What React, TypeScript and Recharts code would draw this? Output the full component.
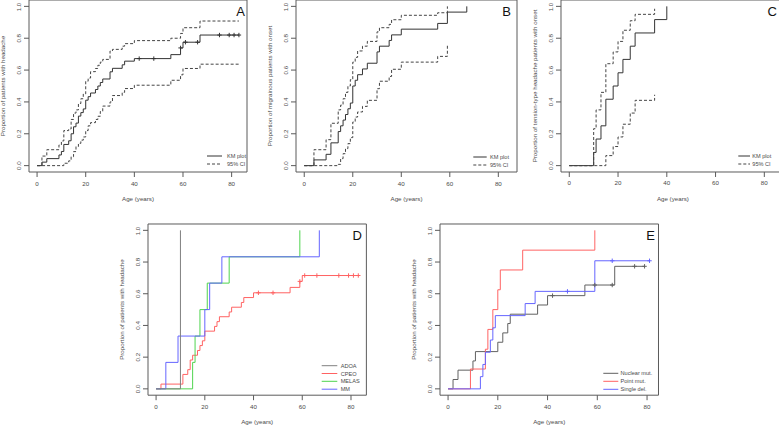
import React from 'react';
import { ComposedChart, Line, Scatter, XAxis, YAxis, ReferenceArea } from 'recharts';

// ---- panel A: all patients, headache ----
const ageA = [0, 2, 4, 9, 10, 11, 13, 14, 15, 16, 17, 18, 19, 20, 21, 22, 24, 25, 26, 27, 30, 31, 35, 36, 40, 55, 59, 60, 67, 83];
const kmA = [0, 0.022, 0.044, 0.067, 0.089, 0.133, 0.156, 0.2, 0.244, 0.267, 0.311, 0.333, 0.356, 0.411, 0.433, 0.456, 0.478, 0.5, 0.522, 0.544, 0.589, 0.611, 0.633, 0.656, 0.672, 0.697, 0.739, 0.775, 0.82, 0.82];
const upA = [0, 0.06, 0.1, 0.13, 0.155, 0.22, 0.23, 0.29, 0.33, 0.35, 0.39, 0.42, 0.45, 0.53, 0.55, 0.59, 0.61, 0.63, 0.65, 0.667, 0.72, 0.73, 0.75, 0.766, 0.785, 0.8, 0.83, 0.866, 0.908, 0.908];
const loA = [0, 0, 0, 0, 0, 0.015, 0.03, 0.056, 0.088, 0.12, 0.14, 0.16, 0.18, 0.22, 0.25, 0.27, 0.29, 0.31, 0.34, 0.374, 0.4, 0.44, 0.46, 0.484, 0.505, 0.536, 0.57, 0.61, 0.637, 0.637];
const censorAgeA = [42, 48, 59, 61, 66, 75, 79, 81, 83];
const censorValA = [0.672, 0.672, 0.739, 0.775, 0.775, 0.82, 0.82, 0.82, 0.82];

// ---- panel B: migrainous onset ----
const ageB = [0, 4, 9, 11, 14, 15, 16, 17, 18, 19, 20, 21, 22, 24, 26, 30, 31, 35, 36, 40, 55, 59, 67];
const kmB = [0, 0.036, 0.071, 0.143, 0.214, 0.25, 0.286, 0.321, 0.357, 0.393, 0.5, 0.536, 0.571, 0.607, 0.643, 0.714, 0.75, 0.786, 0.821, 0.857, 0.893, 0.964, 1.0];
const upB = [0, 0.1, 0.163, 0.266, 0.35, 0.38, 0.42, 0.46, 0.5, 0.54, 0.65, 0.68, 0.72, 0.75, 0.78, 0.84, 0.866, 0.887, 0.916, 0.944, 0.96, 1.0];
const loB = [0, 0, 0, 0, 0.008, 0.044, 0.075, 0.107, 0.138, 0.176, 0.274, 0.305, 0.337, 0.372, 0.41, 0.483, 0.53, 0.56, 0.605, 0.65, 0.686, 0.757];

// ---- panel C: tension-type onset ----
const ageC = [0, 10, 11, 13, 15, 18, 20, 22, 25, 27, 35, 40];
const kmC = [0, 0.083, 0.167, 0.25, 0.417, 0.5, 0.583, 0.667, 0.75, 0.833, 0.917, 1.0];
const upC = [0, 0.232, 0.35, 0.46, 0.64, 0.714, 0.78, 0.85, 0.91, 0.95, 0.985];
const loC = [0, 0, 0, 0, 0.063, 0.12, 0.18, 0.26, 0.33, 0.41, 0.445];

// ---- panel D: by phenotype ----
const ageADOA = [0, 10];
const valADOA = [0, 1.0];
const ageCPEO = [0, 2, 11, 13, 14, 15, 17, 18, 19, 20, 24, 25, 26, 30, 31, 35, 36, 40, 55, 59, 60, 83];
const valCPEO = [0, 0.03, 0.091, 0.121, 0.182, 0.212, 0.242, 0.273, 0.303, 0.364, 0.394, 0.424, 0.455, 0.485, 0.515, 0.545, 0.576, 0.606, 0.64, 0.678, 0.715, 0.715];
const censorAgeCPEO = [42, 48, 59, 61, 66, 75, 79, 81, 83];
const censorValCPEO = [0.606, 0.606, 0.678, 0.715, 0.715, 0.715, 0.715, 0.715, 0.715];
const ageMELAS = [0, 15, 16, 18, 21, 30, 59];
const valMELAS = [0, 0.167, 0.333, 0.5, 0.667, 0.833, 1.0];
const ageMM = [0, 4, 9, 20, 22, 27, 67];
const valMM = [0, 0.167, 0.333, 0.5, 0.667, 0.833, 1.0];

// ---- panel E: by genotype ----
const ageNuc = [0, 2, 4, 10, 11, 20, 22, 24, 25, 36, 40, 55, 67, 79];
const valNuc = [0, 0.059, 0.118, 0.176, 0.235, 0.294, 0.353, 0.412, 0.471, 0.529, 0.588, 0.655, 0.773, 0.773];
const censorAgeNuc = [42, 59, 66, 75, 79];
const censorValNuc = [0.588, 0.655, 0.655, 0.773, 0.773];
const agePoint = [0, 9, 15, 16, 18, 20, 21, 30, 59];
const valPoint = [0, 0.125, 0.25, 0.375, 0.5, 0.625, 0.75, 0.875, 1.0];
const ageSingle = [0, 13, 14, 15, 17, 18, 19, 31, 35, 59, 81];
const valSingle = [0, 0.077, 0.154, 0.231, 0.308, 0.385, 0.462, 0.538, 0.615, 0.808, 0.808];
const censorAgeSingle = [48, 66, 81];
const censorValSingle = [0.615, 0.808, 0.808];

const xTicks = [0, 20, 40, 60, 80];
const yTicks = [0, 0.2, 0.4, 0.6, 0.8, 1.0];
const kmLegend = ['KM plot', '95% CI'];
const dLegend = ['ADOA', 'CPEO', 'MELAS', 'MM'];
const eLegend = ['Nuclear mut.', 'Point mut.', 'Single del.'];

const FONT = '"Liberation Sans", Arial, sans-serif';
const TEXT = '#4a4a4a';
const AXIS = '#5a5a5a';
const KM = '#333';
const CI = '#444';
const GRAY = '#808080';
const RED = '#ff6262';
const GREEN = '#4ed44e';
const BLUE = '#6464ff';
const NUC = '#606060';
const DASH = '3 2';

type Curve = { ages: number[]; vals: number[]; color: string; dash?: string };
type Marks = { ages: number[]; vals: number[]; color: string };

const pts = (ages: number[], vals: number[]) => vals.map((y, i) => ({ x: ages[i], y }));

const XTick = (p: any) => (
  <text x={p.x} y={p.y} textAnchor="middle" dominantBaseline="central" fontSize={6.2} fill={TEXT}>
    {p.payload.value}
  </text>
);

const YTick = (p: any) => (
  <text
    x={p.x}
    y={p.y}
    transform={`rotate(-90 ${p.x} ${p.y})`}
    textAnchor="middle"
    dominantBaseline="central"
    fontSize={6.2}
    fill={TEXT}
  >
    {Number(p.payload.value).toFixed(1)}
  </text>
);

const plus = (color: string) => (p: any) => (
  <g stroke={color} strokeWidth={1}>
    <line x1={p.cx - 2.2} x2={p.cx + 2.2} y1={p.cy} y2={p.cy} />
    <line x1={p.cx} x2={p.cx} y1={p.cy - 2.2} y2={p.cy + 2.2} />
  </g>
);

type PanelProps = {
  left: number;
  top: number;
  boxW: number;
  boxH: number;
  xMin: number;
  xMax: number;
  yTitle: string;
  curves: Curve[];
  marks: Marks[];
};

function Panel({ left, top, boxW, boxH, xMin, xMax, yTitle, curves, marks }: PanelProps) {
  return (
    <div style={{ position: 'absolute', left: left - 30, top: top - 2 }}>
      <ComposedChart width={boxW + 32} height={boxH + 36} margin={{ top: 2, right: 2, bottom: 0, left: 0 }}>
        <XAxis
          type="number"
          dataKey="x"
          domain={[xMin, xMax]}
          ticks={xTicks}
          allowDataOverflow
          height={34}
          tickSize={5}
          tickMargin={6}
          axisLine={false}
          tickLine={{ stroke: AXIS }}
          tick={XTick}
          label={{ value: 'Age (years)', position: 'insideBottom', offset: 5, fill: TEXT, fontSize: 6.2 }}
        />
        <YAxis
          type="number"
          dataKey="y"
          domain={[-0.04, 1.04]}
          ticks={yTicks}
          allowDataOverflow
          width={30}
          tickSize={5}
          tickMargin={5.7}
          axisLine={false}
          tickLine={{ stroke: AXIS }}
          tick={YTick}
          label={{
            value: yTitle,
            angle: -90,
            position: 'insideLeft',
            offset: 4,
            fill: TEXT,
            fontSize: 6.2,
            style: { textAnchor: 'middle' },
          }}
        />
        <ReferenceArea x1={xMin} x2={xMax} y1={-0.04} y2={1.04} fill="none" stroke={AXIS} ifOverflow="visible" />
        {curves.map((c, i) => (
          <Line
            key={'c' + i}
            data={pts(c.ages, c.vals)}
            dataKey="y"
            type="stepAfter"
            stroke={c.color}
            strokeWidth={1}
            strokeDasharray={c.dash}
            dot={false}
            activeDot={false}
            isAnimationActive={false}
          />
        ))}
        {marks.map((m, i) => (
          <Scatter key={'m' + i} data={pts(m.ages, m.vals)} shape={plus(m.color)} isAnimationActive={false} />
        ))}
      </ComposedChart>
    </div>
  );
}

function Legend({ x1, x2, tx, ys, labels, colors, dashes }: { x1: number; x2: number; tx: number; ys: number[]; labels: string[]; colors: string[]; dashes?: (string | undefined)[] }) {
  return (
    <g>
      {labels.map((l, i) => (
        <g key={l}>
          <line x1={x1} x2={x2} y1={ys[i]} y2={ys[i]} stroke={colors[i]} strokeWidth={1} strokeDasharray={dashes ? dashes[i] : undefined} />
          <text x={tx} y={ys[i]} dominantBaseline="central" fontSize={5.6} fill={TEXT}>
            {l}
          </text>
        </g>
      ))}
    </g>
  );
}

export default function App() {
  return (
    <div style={{ position: 'absolute', left: 0, top: 0, width: 779, height: 426, overflow: 'hidden', background: '#fff', fontFamily: FONT }}>
      <Panel
        left={29}
        top={0}
        boxW={218}
        boxH={172}
        xMin={-3.32}
        xMax={86.32}
        yTitle="Proportion of patients with headache"
        curves={[
          { ages: ageA, vals: kmA, color: KM },
          { ages: ageA, vals: upA, color: CI, dash: DASH },
          { ages: ageA, vals: loA, color: CI, dash: DASH },
        ]}
        marks={[{ ages: censorAgeA, vals: censorValA, color: KM }]}
      />
      <Panel
        left={296}
        top={0}
        boxW={221}
        boxH={172}
        xMin={-3.4}
        xMax={87.7}
        yTitle="Proportion of migrainous patients with onset"
        curves={[
          { ages: ageB, vals: kmB, color: KM },
          { ages: ageB, vals: upB, color: CI, dash: DASH },
          { ages: ageB, vals: loB, color: CI, dash: DASH },
        ]}
        marks={[]}
      />
      <Panel
        left={561}
        top={0}
        boxW={223.8}
        boxH={172}
        xMin={-3.4}
        xMax={88.4}
        yTitle="Proportion of tension-type headache patients with onset"
        curves={[
          { ages: ageC, vals: kmC, color: KM },
          { ages: ageC, vals: upC, color: CI, dash: DASH },
          { ages: ageC, vals: loC, color: CI, dash: DASH },
        ]}
        marks={[]}
      />
      <Panel
        left={148.3}
        top={224.4}
        boxW={218.4}
        boxH={171.2}
        xMin={-3.32}
        xMax={86.32}
        yTitle="Proportion of patients with headache"
        curves={[
          { ages: ageCPEO, vals: valCPEO, color: RED },
          { ages: ageMELAS, vals: valMELAS, color: GREEN },
          { ages: ageMM, vals: valMM, color: BLUE },
          { ages: ageADOA, vals: valADOA, color: GRAY },
        ]}
        marks={[{ ages: censorAgeCPEO, vals: censorValCPEO, color: RED }]}
      />
      <Panel
        left={439.5}
        top={224.4}
        boxW={218.5}
        boxH={171.2}
        xMin={-3.24}
        xMax={84.6}
        yTitle="Proportion of patients with headache"
        curves={[
          { ages: ageNuc, vals: valNuc, color: NUC },
          { ages: agePoint, vals: valPoint, color: RED },
          { ages: ageSingle, vals: valSingle, color: BLUE },
        ]}
        marks={[
          { ages: censorAgeNuc, vals: censorValNuc, color: NUC },
          { ages: censorAgeSingle, vals: censorValSingle, color: BLUE },
        ]}
      />
      <svg width={779} height={426} style={{ position: 'absolute', left: 0, top: 0, pointerEvents: 'none' }}>
        <g fontSize={13} fill="#111" textAnchor="middle" dominantBaseline="central">
          <text x={240.7} y={11.7}>A</text>
          <text x={506.7} y={11.7}>B</text>
          <text x={772.3} y={11.7}>C</text>
          <text x={357.3} y={235.7}>D</text>
          <text x={650.7} y={235.7}>E</text>
        </g>
        <Legend x1={207} x2={222} tx={227} ys={[156, 164]} labels={kmLegend} colors={[KM, CI]} dashes={[undefined, DASH]} />
        <Legend x1={473.3} x2={486.7} tx={490} ys={[157, 165]} labels={kmLegend} colors={[KM, CI]} dashes={[undefined, DASH]} />
        <Legend x1={738.3} x2={750} tx={752.3} ys={[156, 164]} labels={kmLegend} colors={[KM, CI]} dashes={[undefined, DASH]} />
        <Legend x1={321.7} x2={337.3} tx={340.7} ys={[365.7, 373.5, 381.3, 389.2]} labels={dLegend} colors={[GRAY, RED, GREEN, BLUE]} />
        <Legend x1={603.3} x2={618.3} tx={620.5} ys={[373.3, 381.3, 389.3]} labels={eLegend} colors={[NUC, RED, BLUE]} />
      </svg>
    </div>
  );
}
